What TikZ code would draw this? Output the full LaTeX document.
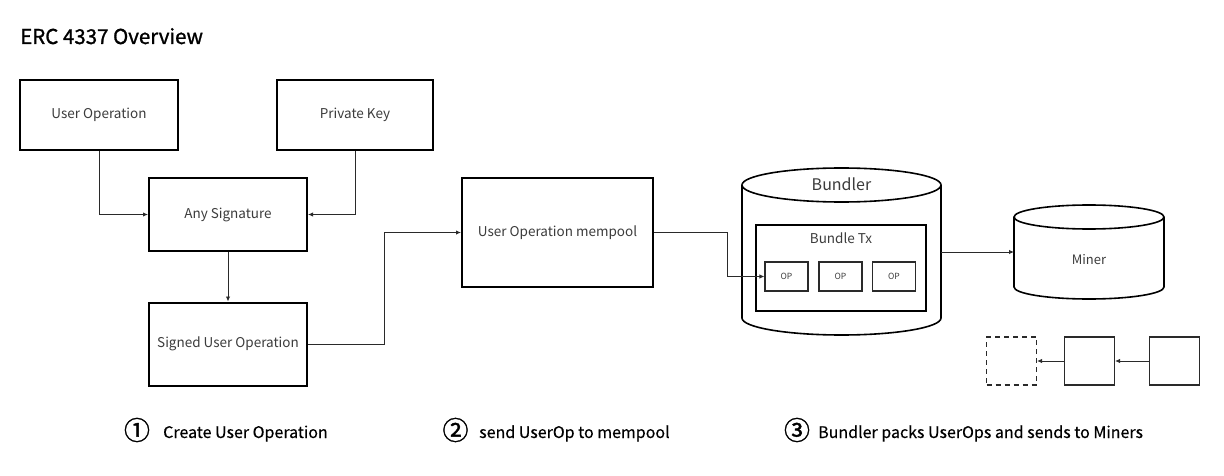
\documentclass[tikz,border=0pt]{standalone}
\usepackage{fontspec}
\setmainfont{Noto Sans CJK KR}
\newfontfamily\titlefont[FakeBold=1.2]{Noto Sans CJK KR}
\newfontfamily\labelfont[FakeBold=0.3]{Noto Sans CJK KR}
\newfontfamily\numfont[FakeBold=1.4]{Noto Sans CJK KR}
\usetikzlibrary{arrows.meta}
\definecolor{txt}{HTML}{3C3C3C}
\definecolor{ln}{HTML}{2A2A2A}
\tikzset{
  box/.style={draw=black, line width=2pt, fill=white, inner sep=0pt, text=txt, font=\fontsize{13.5}{15}\selectfont},
  opbox/.style={draw=ln, line width=1.2pt, inner sep=0pt, minimum width=43pt, minimum height=29pt, text=txt, font=\fontsize{8.5}{10}\selectfont},
  small/.style={draw=ln, line width=1.2pt, inner sep=0pt, minimum width=50pt, minimum height=48pt},
  conn/.style={draw=ln, line width=0.9pt, -{Latex[length=5pt,width=4.5pt]}},
  cyl/.style={draw=black, line width=1.6pt, fill=white},
  lbl/.style={text=black, font=\labelfont\fontsize{16}{18}\selectfont, anchor=base west, inner sep=0pt},
  num/.style={text=black, font=\numfont\fontsize{26}{28}\selectfont},
}
\begin{document}
\begin{tikzpicture}[x=1pt,y=-1pt]
\useasboundingbox (0,0) rectangle (1224,476);
\node[anchor=base west, text=black, font=\titlefont\fontsize{20.5}{22}\selectfont, inner sep=0pt] (title) at (20,44) {ERC 4337 Overview};

% left boxes
\node[box, minimum width=158pt, minimum height=70pt] (uo) at (99,115) {User Operation};
\node[box, minimum width=156pt, minimum height=70pt] (pk) at (355,115) {Private Key};
\node[box, minimum width=158pt, minimum height=73pt] (sig) at (228,214.5) {Any Signature};
\node[box, minimum width=158pt, minimum height=83pt] (sou) at (228,344) {Signed User Operation};
\node[box, minimum width=191pt, minimum height=109pt] (mp) at (557.5,232.5) {User Operation mempool};

% Bundler cylinder
\path[cyl] (742,185) -- (742,318) arc[start angle=180, end angle=0, x radius=99.5, y radius=17] -- (941,185)
  arc[start angle=0, end angle=-180, x radius=99.5, y radius=17] -- cycle;
\draw[cyl] (742,185) arc[start angle=180, end angle=0, x radius=99.5, y radius=17];
\node[text=txt, font=\fontsize{16}{18}\selectfont] (bundler) at (841.5,184) {Bundler};
\coordinate (bundR) at (941,252);

% Bundle Tx
\node[draw=black, line width=2pt, minimum width=170pt, minimum height=86pt, inner sep=0pt] (btx) at (841,268) {};
\node[text=txt, font=\fontsize{13.5}{15}\selectfont] (btxl) at (841,238) {Bundle Tx};
\node[opbox] (op1) at (786.5,276.5) {OP};
\node[opbox] (op2) at (840.5,276.5) {OP};
\node[opbox] (op3) at (894,276.5) {OP};

% Miner cylinder
\path[cyl] (1014,217) -- (1014,287) arc[start angle=180, end angle=0, x radius=75, y radius=12] -- (1164,217)
  arc[start angle=0, end angle=-180, x radius=75, y radius=12] -- cycle;
\draw[cyl] (1014,217) arc[start angle=180, end angle=0, x radius=75, y radius=12];
\node[text=txt, font=\fontsize{13}{15}\selectfont] (miner) at (1089,260) {Miner};
\coordinate (minerL) at (1014,252);

% small chain
\node[small, dashed, dash pattern=on 5pt off 4pt] (c1) at (1011.5,361) {};
\node[small] (c2) at (1089.5,361) {};
\node[small] (c3) at (1174.5,361) {};

% connectors
\coordinate (b1) at (384,0);
\coordinate (b2) at (727,0);
\draw[conn] (uo.south) |- (sig.west);
\draw[conn] (pk.south) |- (sig.east);
\draw[conn] (sig.south) -- (sou.north);
\draw[conn] (sou.east) -| (b1 |- mp.west) -- (mp.west);
\draw[conn] (mp.east) -| (b2 |- op1.west) -- (op1.west);
\draw[conn] (bundR) -- (minerL);
\draw[conn] (c3.west) -- (c2.east);
\draw[conn] (c2.west) -- (c1.east);

% bottom labels
\node[num] (n1) at (137,430) {①};
\node[lbl] (l1) at (163,438) {Create User Operation};
\node[num] (n2) at (455.5,430) {②};
\node[lbl] (l2) at (479,438) {send UserOp to mempool};
\node[num] (n3) at (797,430) {③};
\node[lbl] (l3) at (818,438) {Bundler packs UserOps and sends to Miners};
\end{tikzpicture}
\end{document}
